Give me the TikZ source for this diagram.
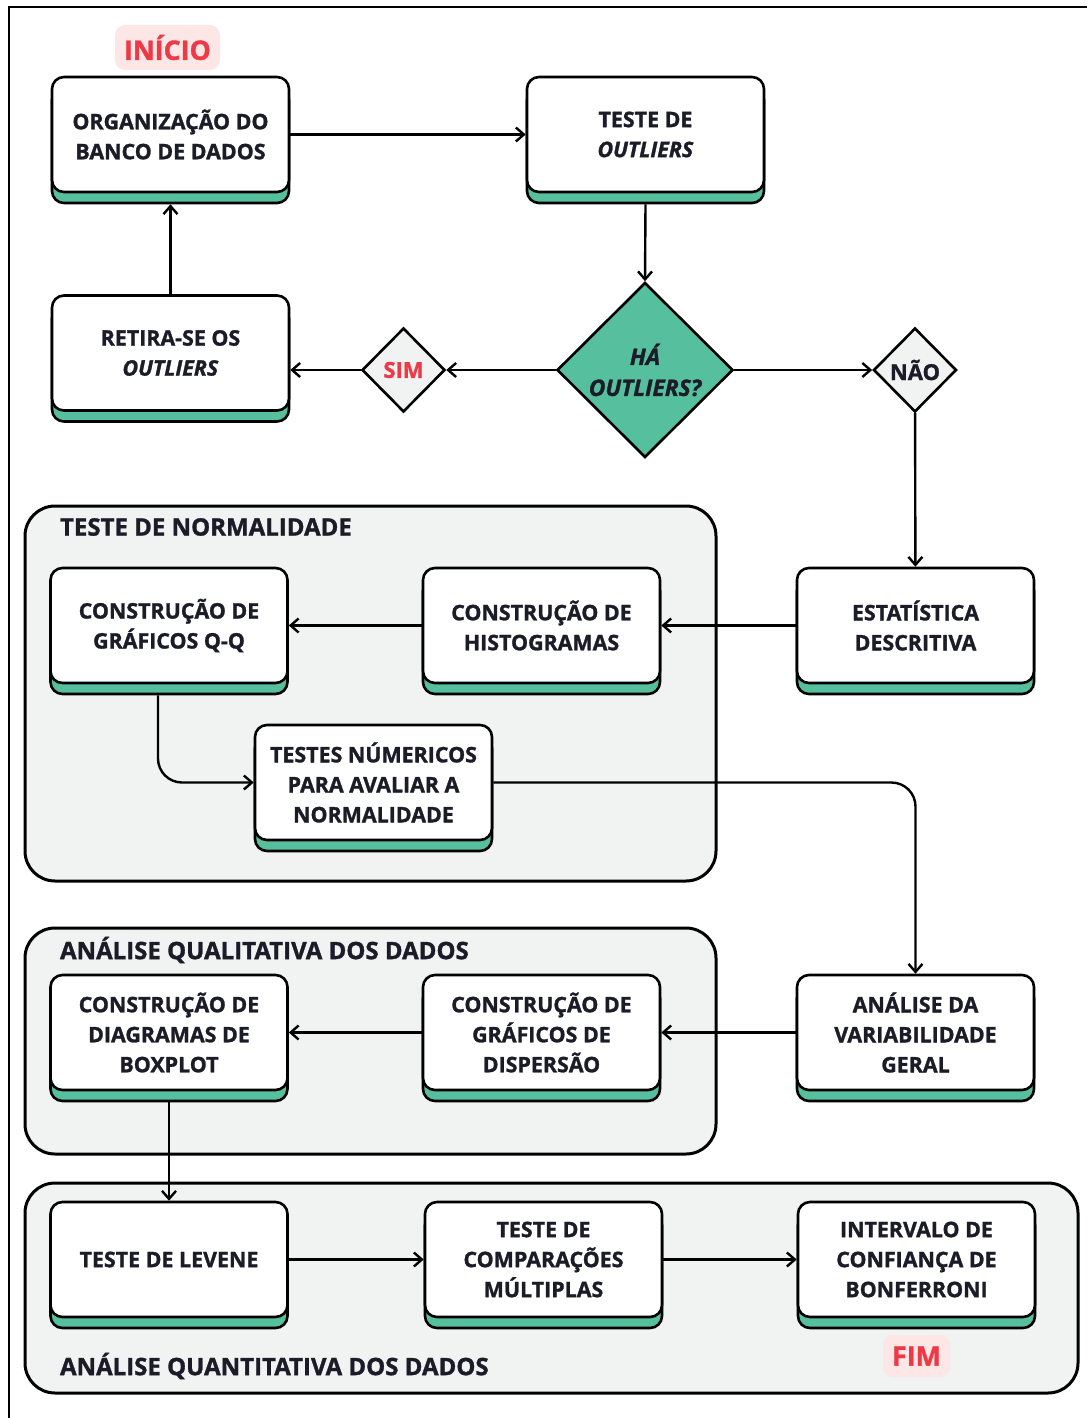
\documentclass[tikz,border=0pt]{standalone}
\usepackage{fontspec}
\setmainfont{Open Sans}[BoldFeatures={FakeBold=1.3}, BoldItalicFeatures={FakeBold=1.3}]
\definecolor{tealgreen}{RGB}{86,191,158}
\definecolor{panelgray}{RGB}{241,242,242}
\definecolor{pinkbg}{RGB}{252,230,230}
\definecolor{alertred}{RGB}{238,58,70}
\definecolor{inkdark}{RGB}{28,28,40}
\usetikzlibrary{arrows.meta,positioning,shapes.geometric,shadows}

\begin{document}
\begin{tikzpicture}[
    x=0.5pt, y=-0.5pt,
    stepbox/.style={draw=black, line width=1.3pt, rounded corners=6pt, fill=white, minimum width=118.5pt, minimum height=57.5pt, align=center, text=inkdark, font=\fontsize{10.7}{15}\selectfont\bfseries, general shadow={shadow yshift=-5.5pt, fill=tealgreen, draw=black, line width=1.3pt}},
    panel/.style={draw=black, line width=1.5pt, rounded corners=15pt, fill=panelgray, inner sep=0pt},
    paneltitle/.style={anchor=west, text=inkdark, font=\fontsize{12}{15}\selectfont\bfseries},
    choice/.style={diamond, draw=black, line width=1.3pt, aspect=1, inner sep=0pt, align=center},
    tag/.style={fill=pinkbg, rounded corners=5pt, text=alertred, font=\fontsize{13.4}{15}\selectfont\bfseries},
    arrow/.style={-{Straight Barb[length=4pt,width=7pt]}, line width=1.2pt, black}
]
    \useasboundingbox (0,0) rectangle (1087,1418);
    \draw[line width=1.2pt] (1087,7) -- (9,7) -- (9,1418);

    \node[panel, minimum width=345.5pt, minimum height=187.5pt] (normal) at (370.5,693.5) {};
    \node[panel, minimum width=345.5pt, minimum height=113pt] (quali) at (370.5,1041) {};
    \node[panel, minimum width=526.5pt, minimum height=105pt] (quanti) at (551.5,1288) {};
    \node[paneltitle] (normaltitle) at (53,527) {TESTE DE NORMALIDADE};
    \node[paneltitle] (qualititle) at (53,950) {ANÁLISE QUALITATIVA DOS DADOS};
    \node[paneltitle] (quantititle) at (53,1366) {ANÁLISE QUANTITATIVA DOS DADOS};

    \node[tag, minimum width=52.5pt, minimum height=22.5pt] (inicio) at (167.5,47.5) {INÍCIO};
    \node[stepbox] (org) at (170.5,134.5) {ORGANIZAÇÃO DO\\BANCO DE DADOS};
    \node[stepbox] (outl) at (645.5,134.5) {TESTE DE\\\textit{OUTLIERS}};
    \node[stepbox] (retira) at (170.5,353) {RETIRA-SE OS\\\textit{OUTLIERS}};
    \node[choice, fill=tealgreen, minimum width=88pt, minimum height=87.5pt, text=inkdark, font=\fontsize{11.4}{15.5}\selectfont\bfseries\itshape] (haout) at (645,370) {HÁ\\OUTLIERS?};
    \node[choice, fill=panelgray, minimum width=41.5pt, minimum height=42pt, text=alertred, font=\fontsize{11}{13}\selectfont\bfseries] (sim) at (403.5,370) {SIM};
    \node[choice, fill=panelgray, minimum width=41.5pt, minimum height=42pt, text=inkdark, font=\fontsize{11}{13}\selectfont\bfseries] (nao) at (915,370) {NÃO};

    \node[stepbox] (qq) at (169,625.5) {CONSTRUÇÃO DE\\GRÁFICOS Q-Q};
    \node[stepbox] (histo) at (541.5,625.5) {CONSTRUÇÃO DE\\HISTOGRAMAS};
    \node[stepbox] (estat) at (915.5,625.5) {ESTATÍSTICA\\DESCRITIVA};
    \node[stepbox] (testnum) at (373.5,782.5) {TESTES NÚMERICOS\\PARA AVALIAR A\\NORMALIDADE};

    \node[stepbox] (boxplot) at (169,1032.5) {CONSTRUÇÃO DE\\DIAGRAMAS DE\\BOXPLOT};
    \node[stepbox] (dispersao) at (541.5,1032.5) {CONSTRUÇÃO DE\\GRÁFICOS DE\\DISPERSÃO};
    \node[stepbox] (variab) at (915.5,1032.5) {ANÁLISE DA\\VARIABILIDADE\\GERAL};

    \node[stepbox] (levene) at (169,1259.5) {TESTE DE LEVENE};
    \node[stepbox] (compar) at (543.5,1259.5) {TESTE DE\\COMPARAÇÕES\\MÚLTIPLAS};
    \node[stepbox] (bonf) at (916.5,1259.5) {INTERVALO DE\\CONFIANÇA DE\\BONFERRONI};
    \node[tag, minimum width=33.5pt, minimum height=21pt] (fim) at (916.5,1356) {FIM};

    \draw[arrow] (org) -- (outl);
    \draw[arrow] ([yshift=-5.5pt]outl.south) -- (haout.north);
    \draw[arrow] (haout) -- (sim);
    \draw[arrow] (sim) -- (sim -| retira.east);
    \draw[arrow] (retira.north) -- ([yshift=-5.5pt]org.south);
    \draw[arrow] (haout) -- (nao);
    \draw[arrow] (nao) -- (estat);
    \draw[arrow] (estat) -- (histo);
    \draw[arrow] (histo) -- (qq);
    \draw[arrow, rounded corners=12pt] ([xshift=-5.5pt,yshift=-5.5pt]qq.south) |- (testnum);
    \draw[arrow, rounded corners=12pt] (testnum) -| (variab);
    \draw[arrow] (variab) -- (dispersao);
    \draw[arrow] (dispersao) -- (boxplot);
    \draw[arrow] ([yshift=-5.5pt]boxplot.south) -- (levene);
    \draw[arrow] (levene) -- (compar);
    \draw[arrow] (compar) -- (bonf);
\end{tikzpicture}
\end{document}
